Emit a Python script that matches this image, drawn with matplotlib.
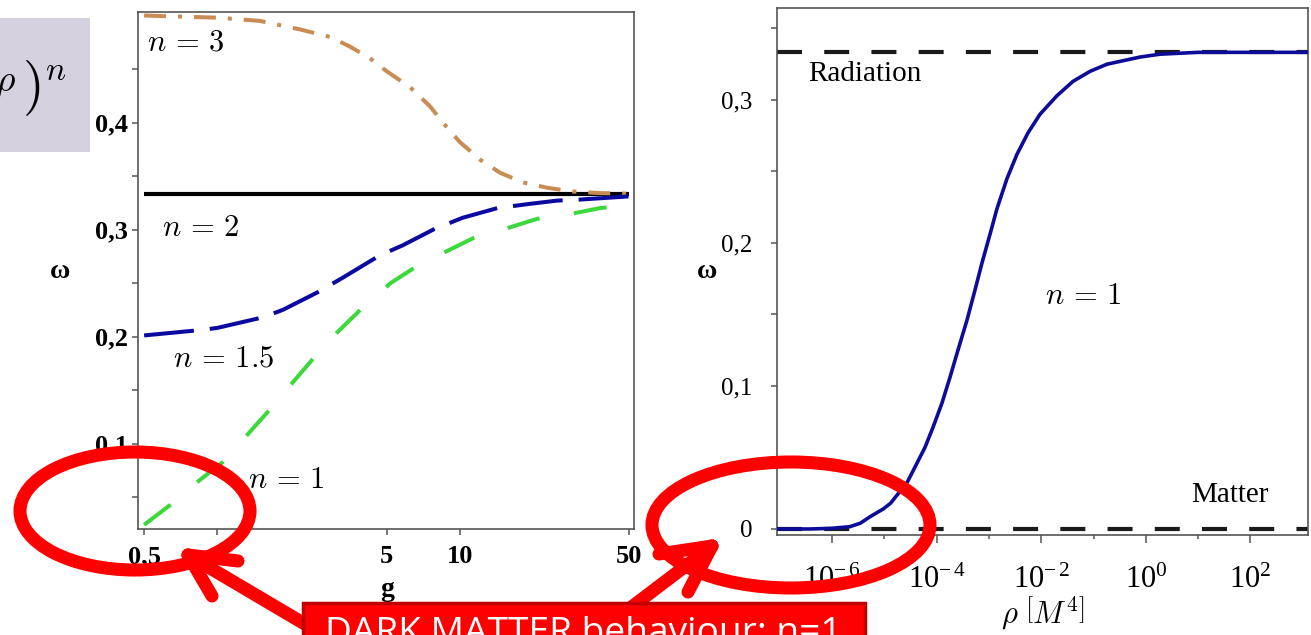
import numpy as np
import matplotlib
matplotlib.use("Agg")
import matplotlib.pyplot as plt
from matplotlib.patches import Ellipse, Rectangle
from matplotlib.ticker import FixedLocator, FixedFormatter, NullLocator, NullFormatter

# ---------------- data ----------------
# Left panel: omega versus g for several n
g_n3 = [0.5, 1.0, 1.5, 2.2, 2.92, 3.53, 4.27, 5.0, 6.25, 7.56, 8.6, 10.0, 12.2, 14.7, 18.3, 23.0,
        29.4, 38.0, 50.0]
w_n3 = [0.500, 0.498, 0.495, 0.487, 0.480, 0.471, 0.460, 0.448, 0.433, 0.415, 0.399, 0.382, 0.365,
        0.353, 0.344, 0.339, 0.3355, 0.334, 0.3335]

g_n2 = [0.5, 50.0]
w_n2 = [0.3333, 0.3333]

g_n15 = [0.5, 0.85, 1.0, 1.55, 1.87, 2.58, 3.3, 4.7, 5.8, 7.8, 10.3, 14.3, 19.5, 25.2, 31.4, 43.0, 50.0]
w_n15 = [0.201, 0.206, 0.208, 0.218, 0.225, 0.241, 0.255, 0.276, 0.285, 0.300, 0.311, 0.320, 0.324,
         0.327, 0.328, 0.330, 0.331]

g_n1 = [0.5, 0.64, 0.85, 1.06, 1.33, 1.61, 2.05, 2.46, 3.1, 3.9, 5.2, 6.9, 8.9, 11.4, 16.1, 20.9,
        29.4, 37.9, 50.0]
w_n1 = [0.024, 0.0425, 0.066, 0.083, 0.108, 0.129, 0.157, 0.178, 0.203, 0.225, 0.250, 0.268, 0.280,
        0.292, 0.302, 0.310, 0.315, 0.320, 0.323]

left_xticks = [0.5, 1, 5, 10, 50]
left_xlabels = ["0,5", "1", "5", "10", "50"]
left_yticks = [0.1, 0.2, 0.3, 0.4]
left_ylabels = ["0,1", "0,2", "0,3", "0,4"]
left_yminor = [0.05, 0.15, 0.25, 0.35, 0.45]

# Right panel: omega versus rho (n = 1), rho given as powers of ten
rho_exp = [-7.05, -6.42, -6.0, -5.66, -5.46, -5.27, -5.02, -4.88, -4.76, -4.57, -4.375, -4.222,
           -4.069, -3.897, -3.744, -3.591, -3.419, -3.266, -3.132, -2.979, -2.845, -2.654, -2.463,
           -2.252, -2.023, -1.698, -1.392, -1.067, -0.742, -0.111, 0.272, 1.0, 2.0, 3.1]
w_rho = [0.0, 0.0, 0.0005, 0.0016, 0.004, 0.0086, 0.014, 0.018, 0.0235, 0.032, 0.046, 0.057,
         0.071, 0.088, 0.106, 0.125, 0.146, 0.167, 0.186, 0.206, 0.224, 0.245, 0.262,
         0.277, 0.290, 0.303, 0.313, 0.320, 0.325, 0.330, 0.332, 0.3333, 0.3333, 0.3333]
w_radiation = 0.3333
w_matter = 0.0

right_xticks_exp = [-6, -4, -2, 0, 2]
right_xminor_exp = [-5, -3, -1, 1]
right_yticks = [0.0, 0.1, 0.2, 0.3]
right_ylabels = ["0", "0,1", "0,2", "0,3"]
right_yminor = [0.05, 0.15, 0.25, 0.35]

banner_text = "DARK MATTER behaviour: n=1"

# ---------------- style ----------------
plt.rcParams["font.family"] = ["Liberation Serif", "DejaVu Serif"]
plt.rcParams["mathtext.fontset"] = "stix"
plt.rcParams["lines.scale_dashes"] = False

W, H = 1311, 635
fig = plt.figure(figsize=(W / 100, H / 100), dpi=100)
fig.patch.set_facecolor("white")

SPINE = "#555555"


def px_axes(x0, y0, x1, y1):
    return fig.add_axes([x0 / W, 1 - y1 / H, (x1 - x0) / W, (y1 - y0) / H])


def style_axes(ax):
    for s in ax.spines.values():
        s.set_color(SPINE)
        s.set_linewidth(1.2)
    ax.tick_params(which="both", direction="out", color=SPINE, width=1.1, colors="black")
    ax.tick_params(which="major", length=4.5)
    ax.tick_params(which="minor", length=4.5)


# ---------- left panel ----------
ax1 = px_axes(138, 12, 634, 529)
style_axes(ax1)
ax1.set_xscale("log")
ax1.set_xlim(0.4718, 52.4)
ax1.set_ylim(0.0201, 0.5033)
ax1.plot(g_n2, w_n2, color="black", lw=3.0, solid_capstyle="butt", zorder=2)
ax1.plot(g_n3, w_n3, color="#C98C55", lw=2.9, linestyle=(0, (15.8, 8.6, 2.9, 8.6)), zorder=3)
ax1.plot(g_n15, w_n15, color="#0A0AA0", lw=2.9, linestyle=(0, (36, 11.5)), zorder=3)
ax1.plot(g_n1, w_n1, color="#3CD83C", lw=2.9, linestyle=(0, (24, 25)), zorder=3)

ax1.xaxis.set_major_locator(FixedLocator(left_xticks))
ax1.xaxis.set_major_formatter(FixedFormatter(left_xlabels))
ax1.xaxis.set_minor_locator(NullLocator())
ax1.yaxis.set_major_locator(FixedLocator(left_yticks))
ax1.yaxis.set_major_formatter(FixedFormatter(left_ylabels))
ax1.yaxis.set_minor_locator(FixedLocator(left_yminor))
ax1.yaxis.set_minor_formatter(NullFormatter())
for lab in ax1.get_xticklabels() + ax1.get_yticklabels():
    lab.set_fontsize(19)
    lab.set_fontweight("bold")
ax1.tick_params(axis="x", pad=7)
ax1.tick_params(axis="y", pad=3)

# ---------- right panel ----------
ax2 = px_axes(777, 8, 1308, 535)
style_axes(ax2)
ax2.set_xscale("log")
ax2.set_xlim(10 ** -7.05, 10 ** 3.1)
ax2.set_ylim(-0.0042, 0.3643)
xl = ax2.get_xlim()
ax2.plot(xl, [w_radiation, w_radiation], color="#1a1a1a", lw=3.0, linestyle=(0, (18, 16)), zorder=2)
ax2.plot(xl, [w_matter, w_matter], color="#1a1a1a", lw=3.0, linestyle=(0, (18, 16)), zorder=2)
rho = 10.0 ** np.array(rho_exp)
ax2.plot(rho, w_rho, color="#0C0C98", lw=2.6, zorder=3)

ax2.xaxis.set_major_locator(FixedLocator([10.0 ** e for e in right_xticks_exp]))
ax2.xaxis.set_major_formatter(FixedFormatter([r"$\mathregular{10^{-\,%d}}$" % abs(e) if e < 0
                                               else r"$\mathregular{10^{%d}}$" % e
                                               for e in right_xticks_exp]))
ax2.xaxis.set_minor_locator(FixedLocator([10.0 ** e for e in right_xminor_exp]))
ax2.xaxis.set_minor_formatter(NullFormatter())
ax2.tick_params(axis="x", which="minor", length=3)
ax2.tick_params(axis="x", which="major", length=6)
ax2.yaxis.set_major_locator(FixedLocator(right_yticks))
ax2.yaxis.set_major_formatter(FixedFormatter(right_ylabels))
ax2.yaxis.set_minor_locator(FixedLocator(right_yminor))
ax2.yaxis.set_minor_formatter(NullFormatter())
for lab in ax2.get_xticklabels():
    lab.set_fontsize(22)
for lab in ax2.get_yticklabels():
    lab.set_fontsize(18)
ax2.tick_params(axis="x", pad=16)
ax2.tick_params(axis="y", pad=13)

# ---------- overlay (pixel coordinates) ----------
ov = fig.add_axes([0, 0, 1, 1], zorder=10)
ov.set_xlim(0, W)
ov.set_ylim(H, 0)
ov.axis("off")
ov.patch.set_alpha(0)

# panel texts
ov.text(186, 43, r"$n\,=\,3$", fontsize=22, math_fontfamily="cm", ha="center", va="center")
ov.text(201, 228, r"$n\,=\,2$", fontsize=22, math_fontfamily="cm", ha="center", va="center")
ov.text(224, 359, r"$n\,=\,1.5$", fontsize=22, math_fontfamily="cm", ha="center", va="center")
ov.text(286, 481, r"$n\,=\,1$", fontsize=22, math_fontfamily="cm", ha="center", va="center")
ov.text(1083, 297, r"$n\,=\,1$", fontsize=22, math_fontfamily="cm", ha="center", va="center")
ov.text(865, 74, "Radiation", fontsize=21, ha="center", va="center")
ov.text(1230, 495, "Matter", fontsize=21, ha="center", va="center")
ov.text(387, 590, "g", fontsize=20, fontweight="bold", ha="center", va="center")
ov.text(60, 272, "ω", fontsize=20, fontweight="bold", ha="center", va="center")
ov.text(707, 272, "ω", fontsize=20, fontweight="bold", ha="center", va="center")
ov.text(1043, 613, r"$\rho\ \left[M^{4}\right]$", fontsize=22, math_fontfamily="cm",
        ha="center", va="center")

# partial formula box at top-left
box = Rectangle((0, 18), 90, 134, facecolor="#D6D1DE", edgecolor="none")
ov.add_patch(box)
ov.text(5, 84, r"$\rho$", fontsize=27, math_fontfamily="cm", ha="center", va="center", clip_on=True)
ov.text(31, 88, r"$)$", fontsize=40, math_fontfamily="cm", ha="center", va="center")
ov.text(56, 72, r"$n$", fontsize=24, math_fontfamily="cm", ha="center", va="center")

RED = "#FF0000"
LW = 9.4
# ellipses
ov.add_patch(Ellipse((135, 511), 230, 118, fill=False, edgecolor=RED, lw=LW))
ov.add_patch(Ellipse((791, 525), 278, 126, fill=False, edgecolor=RED, lw=LW))

# arrows (line drawn heads)
kw = dict(color=RED, lw=LW, solid_capstyle="round", solid_joinstyle="round")
ov.plot([320, 188], [633, 555], **kw)
ov.plot([188, 238], [555, 561], **kw)
ov.plot([188, 212], [555, 596], **kw)
ov.plot([625, 712], [612, 546], **kw)
ov.plot([712, 659], [546, 554], **kw)
ov.plot([712, 688], [546, 592], **kw)

# banner
ov.add_patch(Rectangle((303, 603), 562, 45, facecolor=RED, edgecolor="#C00000", lw=2.5, zorder=5))
t = ov.text(325, 645, banner_text, color="white", fontsize=26, family="Open Sans",
            ha="left", va="baseline", zorder=6)
fig.canvas.draw()
bb = t.get_window_extent()
fs = 26 * 518 / bb.width
t.set_fontsize(fs)
t.set_y(616 + 0.714 * fs * 100 / 72)

fig.savefig("out.png", dpi=100)
